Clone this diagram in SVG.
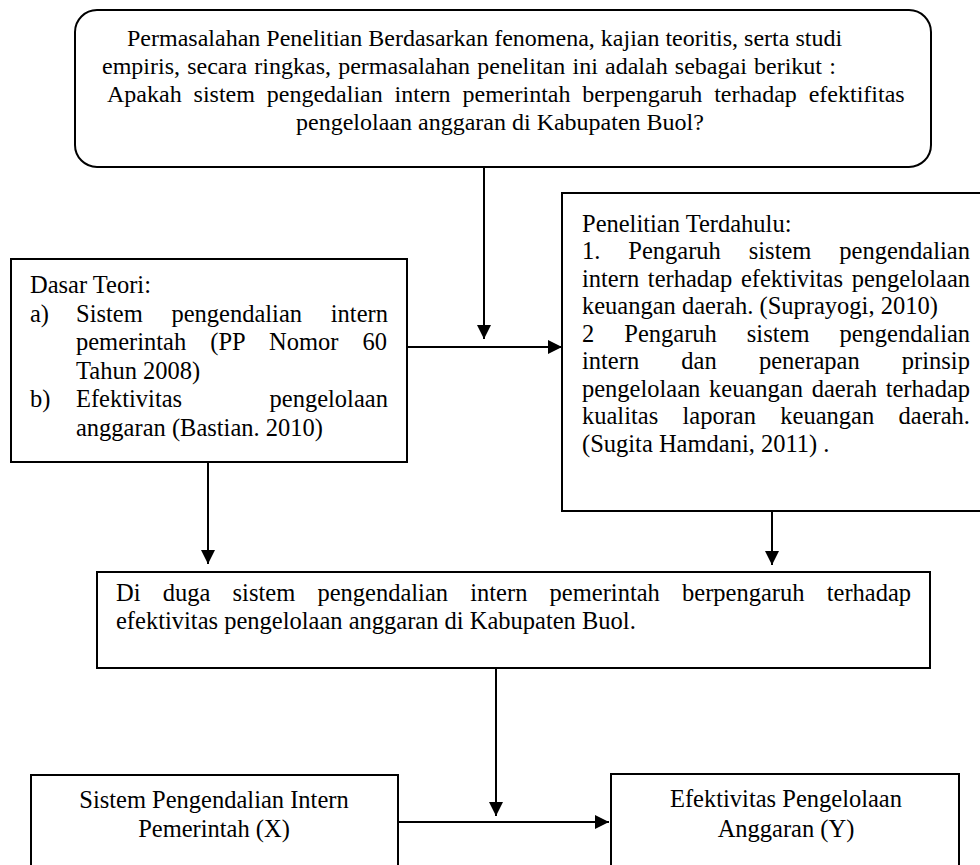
<svg xmlns="http://www.w3.org/2000/svg" width="980" height="865" viewBox="0 0 980 865">
<defs>
<marker id="ah" viewBox="0 0 10 10" refX="10" refY="5" markerUnits="userSpaceOnUse" markerWidth="15" markerHeight="14" orient="auto">
<path d="M0,0 L10,5 L0,10 z" fill="#000"/>
</marker>
<style>
.box{fill:#fff;stroke:#000;stroke-width:2}
.t{font-family:"Liberation Serif","Times New Roman",serif;font-size:24.5px;fill:#000}
.s{font-size:24px}
.m{text-anchor:middle}
.c{fill:none;stroke:#000;stroke-width:2;marker-end:url(#ah)}
</style>
</defs>
<rect width="980" height="865" fill="#fff"/>
<g id="connectors">
<line class="c" x1="484" y1="167" x2="484" y2="339"/>
<line class="c" x1="407" y1="347" x2="562" y2="347"/>
<line class="c" x1="208" y1="462" x2="208" y2="564"/>
<line class="c" x1="772" y1="511" x2="772" y2="565"/>
<line class="c" x1="496" y1="668" x2="496" y2="816"/>
<line class="c" x1="398" y1="822" x2="609" y2="822"/>
</g>
<g id="problem">
<rect class="box" x="75" y="10" width="856" height="157" rx="22" ry="22"/>
<text class="t s" x="127" y="46">Permasalahan Penelitian Berdasarkan fenomena, kajian teoritis, serta studi</text>
<text class="t s" x="102" y="74" word-spacing="1.2">empiris, secara ringkas, permasalahan penelitan ini adalah sebagai berikut :</text>
<text class="t s" x="107" y="102" word-spacing="5.9">Apakah sistem pengedalian intern pemerintah berpengaruh terhadap efektifitas</text>
<text class="t s m" x="500" y="130">pengelolaan anggaran di Kabupaten Buol?</text>
</g>
<g id="dasar-teori">
<rect class="box" x="11" y="259" width="396" height="203"/>
<text class="t" x="30" y="293">Dasar Teori:</text>
<text class="t" x="30" y="321.5">a)</text>
<text class="t" x="76" y="321.5" word-spacing="22.6">Sistem pengendalian intern</text>
<text class="t" x="76" y="350" word-spacing="18">pemerintah (PP Nomor 60</text>
<text class="t" x="76" y="378.5">Tahun 2008)</text>
<text class="t" x="30" y="407">b)</text>
<text class="t" x="76" y="407" word-spacing="81.3">Efektivitas pengelolaan</text>
<text class="t" x="76" y="435.5">anggaran (Bastian. 2010)</text>
</g>
<g id="penelitian-terdahulu">
<rect class="box" x="562" y="193" width="430" height="318"/>
<text class="t" x="582" y="231.5">Penelitian Terdahulu:</text>
<text class="t" x="582" y="259" word-spacing="21.8">1. Pengaruh sistem pengendalian</text>
<text class="t" x="582" y="286.5" word-spacing="2.6">intern terhadap efektivitas pengelolaan</text>
<text class="t" x="582" y="314">keuangan daerah. (Suprayogi, 2010)</text>
<text class="t" x="582" y="341.5" word-spacing="23.9">2 Pengaruh sistem pengendalian</text>
<text class="t" x="582" y="369" word-spacing="36.1">intern dan penerapan prinsip</text>
<text class="t" x="582" y="396.5" word-spacing="2.6">pengelolaan keuangan daerah terhadap</text>
<text class="t" x="582" y="424" word-spacing="18.2">kualitas laporan keuangan daerah.</text>
<text class="t" x="582" y="451.5">(Sugita Hamdani, 2011) .</text>
</g>
<g id="hipotesis">
<rect class="box" x="97" y="572" width="833" height="96"/>
<text class="t" x="116" y="601" word-spacing="16.1">Di duga sistem pengendalian intern pemerintah berpengaruh terhadap</text>
<text class="t" x="116" y="629">efektivitas pengelolaan anggaran di Kabupaten Buol.</text>
</g>
<g id="variabel-x">
<rect class="box" x="31" y="775" width="367" height="110"/>
<text class="t m" x="214" y="808">Sistem Pengendalian Intern</text>
<text class="t m" x="214" y="837">Pemerintah (X)</text>
</g>
<g id="variabel-y">
<rect class="box" x="611" y="774" width="348" height="110"/>
<text class="t m" x="786" y="807">Efektivitas Pengelolaan</text>
<text class="t m" x="786" y="837">Anggaran (Y)</text>
</g>
</svg>
